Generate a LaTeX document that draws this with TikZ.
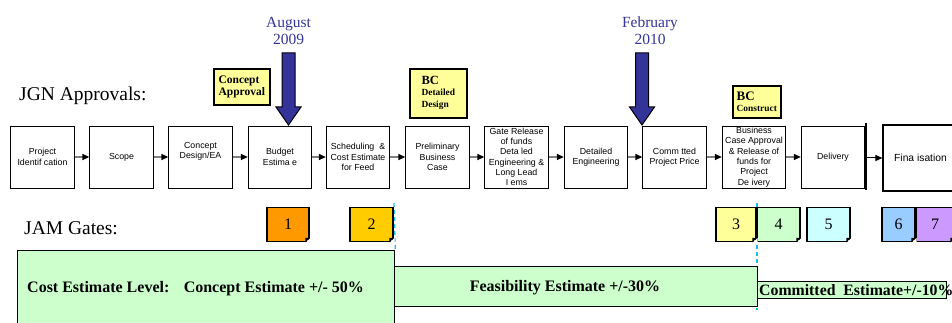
\documentclass[tikz,border=0pt]{standalone}
\usepackage{fontspec}
\setmainfont{Liberation Serif}
\newfontfamily\boxfont{Liberation Sans}
\usetikzlibrary{arrows.meta}

\definecolor{approvalyellow}{RGB}{255,255,153}
\definecolor{monthblue}{RGB}{51,51,153}
\definecolor{estgreen}{RGB}{204,255,204}
\definecolor{gateorange}{RGB}{255,153,0}
\definecolor{gategold}{RGB}{255,204,0}
\definecolor{gateyellow}{RGB}{255,255,153}
\definecolor{gatemint}{RGB}{204,255,204}
\definecolor{gatecyan}{RGB}{204,255,255}
\definecolor{gateblue}{RGB}{153,204,255}
\definecolor{gatepurple}{RGB}{204,153,255}
\definecolor{flowgray}{RGB}{128,128,128}
\definecolor{markcyan}{RGB}{20,190,240}

\begin{document}
\begin{tikzpicture}[x=1pt,y=-1pt,
  stage/.style={draw=black, line width=0.8pt, fill=white, minimum width=63.5pt,
    minimum height=62pt, inner sep=0pt, align=center,
    font=\boxfont\fontsize{8.8}{10.3}\selectfont},
  flow/.style={draw=flowgray, line width=1.3pt,
    -{Triangle[length=7pt,width=6pt,color=black]}},
  flowdark/.style={draw=black, line width=1pt,
    -{Triangle[length=7pt,width=6pt,color=black]}},
  approval/.style={draw=black, line width=1.6pt, fill=approvalyellow,
    inner sep=0pt, align=left, anchor=north west, font=\bfseries},
  gate/.style={draw=black, line width=1.5pt, minimum height=34pt, inner sep=0pt,
    font=\fontsize{16}{16}\selectfont},
  estimate/.style={draw=black, line width=1.3pt, fill=estgreen, inner sep=0pt,
    anchor=north west},
  estlabel/.style={inner sep=0pt, font=\bfseries\fontsize{16}{16}\selectfont},
  marker/.style={draw=markcyan, line width=1.3pt, dash pattern=on 4pt off 3pt},
  month/.style={text=monthblue, align=center, font=\fontsize{15.5}{17}\selectfont},
  heading/.style={anchor=base west, inner sep=0pt, font=\fontsize{19.5}{20}\selectfont},
  pics/downmark/.style={code={
    \draw[draw=black, line width=1pt, fill=monthblue, line join=miter]
      (0,0) -- (-12.5,-18) -- (-6.5,-18) -- (-6.5,-72) -- (6.5,-72)
      -- (6.5,-18) -- (12.5,-18) -- cycle;}}
]
\useasboundingbox (0,0) rectangle (952,323);
\clip (0,0) rectangle (952,323);

% headings
\node[heading] (jgn) at (19,100.5) {JGN Approvals:};
\node[heading] (jam) at (24,234) {JAM Gates:};

% dates and their markers
\node[month] (aug) at (288.5,30.5) {August\\2009};
\node[month] (feb) at (650,30.5) {February\\2010};
\coordinate (augtip) at (288.5,125);
\coordinate (febtip) at (642,125);
\pic at (augtip) {downmark};
\pic at (febtip) {downmark};

% approval tags
\node[approval, minimum width=56pt, minimum height=36pt] (concapp) at (213,68)
  {\fontsize{11.5}{15}\selectfont Concept\\\fontsize{11.5}{15}\selectfont Approval};
\node[approval, minimum width=57pt, minimum height=49pt] (bcdes) at (409,68)
  {\fontsize{12.5}{12}\selectfont BC\\[-1pt]
   \fontsize{9.4}{11}\selectfont Detailed\\\fontsize{9.4}{11}\selectfont Design};
\node[approval, minimum width=48pt, minimum height=32pt] (bccon) at (732,85)
  {\fontsize{13}{12}\selectfont BC\\[-1pt]
   \fontsize{9.4}{11}\selectfont Construct};

% process stages
\node[stage] (p1)  at (42.5,157)  {Project\\Identif cation};
\node[stage] (p2)  at (121.5,157) {Scope};
\node[stage] (p3)  at (200.5,157) {Concept\\Design/EA\\\strut};
\node[stage] (p4)  at (280,157)   {Budget\\Estima e};
\node[stage] (p5)  at (358,157)   {Scheduling \ \&\\Cost Estimate\\for Feed};
\node[stage] (p6)  at (437.5,157) {Preliminary\\Business\\Case};
\node[stage] (p7)  at (516.5,157) {Gate Release\\of funds\\Deta led\\Engineering \&\\Long Lead\\I ems};
\node[stage] (p8)  at (596,157)   {Detailed\\Engineering};
\node[stage] (p9)  at (674.5,157) {Comm tted\\Project Price};
\node[stage] (p10) at (754,157)   {Business\\Case Approval\\\& Release of\\funds for\\Project\\De ivery};
\node[stage] (p11) at (833,157)   {Delivery};
\node[stage, minimum width=75pt, minimum height=66pt, line width=1.2pt,
  font=\boxfont\fontsize{10.3}{12}\selectfont] (p12) at (920.5,158) {Fina isation};

\foreach \a/\b in {p1/p2,p2/p3,p3/p4,p4/p5,p5/p6,p6/p7,p7/p8,p8/p9,p9/p10,p10/p11}
  \draw[flow] (\a.east) -- (\b.west);

% hand-over bar before finalisation
\coordinate (bartop) at (866,123);
\coordinate (barbot) at (866,190);
\coordinate (barmid) at (866,158);
\draw[line width=2pt] (bartop) -- (barbot);
\draw[flowdark] (barmid) -- (p12.west);

% gate boundaries
\coordinate (cut1top) at (394,203);
\coordinate (cut2top) at (757,203);
\coordinate (cut2bot) at (757,310);

% estimate bands
\node[estimate, minimum width=377pt, minimum height=100pt] (concept) at (17,250) {};
\draw[marker] (cut1top) -- (concept.north east);
\draw[marker] (cut2top) -- (cut2bot);
\node[estimate, minimum width=363pt, minimum height=40pt] (feas) at (394,266) {};
\node[estimate, minimum width=189pt, minimum height=17pt] (committed) at (757,281) {};
\node[estlabel, anchor=west] (conceptlbl) at (27,289)
  {Cost Estimate Level:\hspace{0.9em}Concept Estimate +/- 50\%};
\node[estlabel] (feaslbl) at (565,288) {Feasibility Estimate +/-30\%};
\node[estlabel, anchor=west, font=\bfseries\fontsize{15.8}{16}\selectfont] (committedlbl)
  at (759,290) {Committed\ \ Estimate+/-10\%};

% JAM gates
\node[gate, fill=gateorange, minimum width=42pt] (g1) at (288,224.5) {1};
\node[gate, fill=gategold,   minimum width=43pt] (g2) at (371.5,224.5) {2};
\node[gate, fill=gateyellow, minimum width=40pt] (g3) at (736,224.5) {3};
\node[gate, fill=gatemint,   minimum width=43pt] (g4) at (778.5,224.5) {4};
\node[gate, fill=gatecyan,   minimum width=43pt] (g5) at (828.5,224.5) {5};
\node[gate, fill=gateblue,   minimum width=33pt] (g6) at (898.5,224.5) {6};
\node[gate, fill=gatepurple, minimum width=38pt] (g7) at (935,224.5) {7};
\foreach \g in {g1,g2,g3,g4,g5,g6,g7}{
  \fill[white] ([xshift=-4.5pt,yshift=-1pt]\g.south east) -- ([xshift=0.8pt,yshift=-1pt]\g.south east)
    -- ([xshift=0.8pt,yshift=4.5pt]\g.south east) -- cycle;
  \fill[black] ([xshift=-4.5pt]\g.south east) -- ([xshift=-4.5pt,yshift=4.5pt]\g.south east)
    -- ([yshift=4.5pt]\g.south east) -- cycle;
}
\end{tikzpicture}
\end{document}
